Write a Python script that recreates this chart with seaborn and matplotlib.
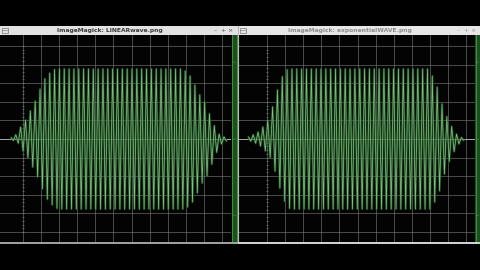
import numpy as np
import pandas as pd
import matplotlib
matplotlib.use("Agg")
import matplotlib.pyplot as plt
import seaborn as sns
from matplotlib.patches import Rectangle

sns.set_style("dark")
plt.rcParams["font.family"] = ["DejaVu Sans"]

# ---- data ----
titles = ["ImageMagick: LINEARwave.png", "ImageMagick: exponentialWAVE.png"]
period = 4.84              # one cycle, in window pixel units
left_start = 17.0          # time of first positive peak (window units)
left_env = [0.02, 0.06, 0.17, 0.27, 0.40, 0.54, 0.71, 0.86, 0.94, 0.99,
            1.0, 1.0, 1.0, 1.0, 1.0, 1.0, 1.0, 1.0, 1.0, 1.0,
            1.0, 1.0, 1.0, 1.0, 1.0, 1.0, 1.0, 1.0, 1.0, 1.0,
            1.0, 1.0, 1.0, 1.0, 1.0, 1.0,
            0.97, 0.90, 0.77, 0.63, 0.53, 0.36, 0.19, 0.07, 0.03]
right_start = 10.4
right_env = [0.03, 0.06, 0.10, 0.17, 0.27, 0.46, 0.70, 0.89, 0.99,
             1.0, 1.0, 1.0, 1.0, 1.0, 1.0, 1.0, 1.0, 1.0, 1.0,
             1.0, 1.0, 1.0, 1.0, 1.0, 1.0, 1.0, 1.0, 1.0, 1.0,
             1.0, 1.0, 1.0, 1.0, 1.0, 1.0, 1.0, 1.0, 1.0,
             0.90, 0.74, 0.50, 0.32, 0.18, 0.07, 0.02]

W, H = 480, 270
fig = plt.figure(figsize=(4.8, 2.7), dpi=100, facecolor="black")

def wave_frame(start, env):
    t, v = [], []
    for k, a in enumerate(env):
        t += [start + k * period, start + k * period + period / 2]
        v += [a, -a]
    return pd.DataFrame({"t": t, "v": v})

grid_x = 29 + 18.1 * np.arange(12)
gy = 18.6 / 70.0
grid_y = gy * np.arange(-5, 6)

def make_panel(x0, start, env):
    ax = fig.add_axes([x0 / W, (H - 242) / H, 237 / W, (242 - 35) / H])
    ax.set_facecolor("#030303")
    ax.set_xlim(0, 237)
    ax.set_ylim(-103 / 70, 104 / 70)
    ax.set_xticks(grid_x)
    ax.set_yticks(grid_y)
    ax.grid(True, color="#7c7c7c", lw=0.55, alpha=0.75)
    ax.tick_params(length=0, labelbottom=False, labelleft=False)
    for s in ax.spines.values():
        s.set_visible(False)
    ax.axhline(0, color="#a8a8a8", lw=0.7, zorder=1)
    # ruler ticks on first grid column
    ticks = np.arange(-5 * gy, 5.1 * gy, gy / 5)
    ax.hlines(ticks, 27.8, 30.2, color="#7c7c7c", lw=0.5)
    df = wave_frame(start, env)
    sns.lineplot(data=df, x="t", y="v", ax=ax, color="#1e5222", lw=1.8,
                 alpha=0.75, estimator=None, sort=False)
    sns.lineplot(data=df, x="t", y="v", ax=ax, color="#7fbf7f", lw=0.55,
                 estimator=None, sort=False)
    ax.set_xlabel("")
    ax.set_ylabel("")
    return ax

make_panel(-6, left_start, left_env)
make_panel(238, right_start, right_env)

# ---- window decorations (overlay in pixel coordinates) ----
ov = fig.add_axes([0, 0, 1, 1], facecolor="none")
ov.set_xlim(0, W)
ov.set_ylim(H, 0)
ov.axis("off")

# title bars
ov.add_patch(Rectangle((0, 26), 237.5, 9, color="#e2e2e2", lw=0))
ov.add_patch(Rectangle((238.5, 26), 242, 9, color="#e6e6e6", lw=0))
ov.text(110, 30.8, titles[0], ha="center", va="center", fontsize=4.3,
        fontweight="bold", color="#3a3a3a")
ov.text(350, 30.8, titles[1], ha="center", va="center", fontsize=4.3,
        fontweight="bold", color="#8c8c8c")
for x, c in [(213, "#555555"), (456, "#9a9a9a")]:
    ov.text(x + 2, 30.5, "–", ha="center", va="center", fontsize=4.5, color=c)
    ov.text(x + 10, 30.5, "+", ha="center", va="center", fontsize=4.5, color=c)
    ov.text(x + 17, 30.5, "×", ha="center", va="center", fontsize=4.5, color=c)
for x in [1.5, 240]:
    ov.add_patch(Rectangle((x, 28), 6, 5, fill=False, ec="#777777", lw=0.5))
    ov.plot([x, x + 6], [29.7, 29.7], color="#777777", lw=0.4)

# green side strips
for x in [231.5, 475]:
    ov.add_patch(Rectangle((x, 35), 6, 207, color="#1c4f1e", lw=0))
    ov.plot([x + 0.5, x + 0.5], [35, 242], color="#3f8f3f", lw=0.8)
    ov.plot([x + 5.5, x + 5.5], [35, 242], color="#3f8f3f", lw=0.8)
    for y in [62, 139, 215]:
        ov.text(x + 3, y, "-:-", ha="center", va="center", fontsize=2.8,
                color="#9ad09a")

# window border between windows
ov.plot([238, 238], [26, 243], color="#b8b8b8", lw=0.8)
# bottom edge
ov.plot([0, 237.5], [242.6, 242.6], color="#b0b0b0", lw=1.3)
ov.plot([238.5, 480], [242.6, 242.6], color="#e8e8e8", lw=1.3)

fig.savefig("out.png", dpi=100, facecolor="black")
